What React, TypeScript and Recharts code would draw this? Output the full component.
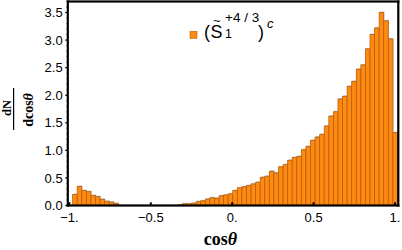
import React from 'react';
import { BarChart, Bar, XAxis, YAxis } from 'recharts';

// histogram bins (cos theta)
const binLo = -0.98;
const binWidth = 0.0281;
const binHeights = [
  0.2, 0.345, 0.27, 0.25, 0.18, 0.16, 0.11, 0.075, 0.06, 0.035,
  0, 0, 0, 0, 0, 0, 0, 0, 0, 0, 0, 0, 0,
  0.01, 0.03, 0.03, 0.04, 0.07, 0.085, 0.115, 0.14, 0.13, 0.175,
  0.19, 0.21, 0.27, 0.32, 0.34, 0.36, 0.39, 0.42, 0.51, 0.53,
  0.62, 0.59, 0.7, 0.74, 0.82, 0.87, 0.89, 1.01, 1.07, 1.18,
  1.24, 1.29, 1.44, 1.62, 1.7, 1.93, 1.98, 2.16, 2.25, 2.47,
  2.55, 2.84, 3.1, 3.22, 3.5, 3.35, 3.02, 1.32,
];

const xTicks = [-1, -0.5, 0, 0.5, 1];
const xTickLabels = ['\u22121.', '\u22120.5', '0.', '0.5', '1.'];
const yTicks = [0, 0.5, 1, 1.5, 2, 2.5, 3, 3.5];
const yMinorTicks = [
  0.1, 0.2, 0.3, 0.4, 0.6, 0.7, 0.8, 0.9, 1.1, 1.2, 1.3, 1.4, 1.6, 1.7, 1.8, 1.9,
  2.1, 2.2, 2.3, 2.4, 2.6, 2.7, 2.8, 2.9, 3.1, 3.2, 3.3, 3.4, 3.6,
];

const data = binHeights.map((v, i) => ({
  bin: +(binLo + (i + 0.5) * binWidth).toFixed(4),
  v,
}));

const W = 402;
const H = 250;
const margin = { top: 1.5, right: 3.7, left: 0, bottom: 14.5 };
const yAxisW = 67.8;
const xAxisH = 30;
const xDomain: [number, number] = [-1.0098, 1.0203];
const yDomain: [number, number] = [0, 3.7];

const plotW = W - margin.left - margin.right - yAxisW;
const plotH = H - margin.top - margin.bottom - xAxisH;
const pxPerUnit = plotW / (xDomain[1] - xDomain[0]);
const padL = (binLo - xDomain[0]) * pxPerUnit;
const padR = (xDomain[1] - (binLo + binHeights.length * binWidth)) * pxPerUnit;
const band = (plotW - padL - padR) / binHeights.length;

const sans = '"Liberation Sans", Arial, sans-serif';
const serif = '"Liberation Serif", "Times New Roman", serif';
const orange = '#ff8a12';
const edge = '#b9600a';
const frameW = 2.2;

const HistBar = (props: any) => {
  const { x, y, width, height } = props;
  if (!height || height <= 0) return <g />;
  return (
    <g>
      <rect x={x + 0.6} y={y - 1} width={width} height={height + 1} fill="#bdbdbd" />
      <rect x={x} y={y} width={width} height={height} fill={orange} stroke={edge} strokeWidth={0.8} />
    </g>
  );
};

const YTick = (props: any) => {
  const { x, y, payload } = props;
  const major = yTicks.includes(payload.value);
  return (
    <g>
      <line x1={x - (major ? 2.5 : 1.3)} x2={x} y1={y} y2={y} stroke="#000" strokeWidth={major ? 1.3 : 1} />
      {major && (
        <text x={x - 5.1} y={y} dy="0.36em" textAnchor="end" fontSize={13} fontFamily={sans} fill="#000">
          {payload.value.toFixed(1)}
        </text>
      )}
    </g>
  );
};

const XTick = (props: any) => {
  const { x, y, payload } = props;
  const idx = xTicks.indexOf(payload.value);
  return (
    <g>
      <line x1={x} x2={x} y1={y} y2={y - 3.2} stroke="#000" strokeWidth={2} />
      <text x={x} y={y + 16.8} textAnchor="middle" fontSize={13} fontFamily={sans} fill="#000">
        {xTickLabels[idx]}
      </text>
    </g>
  );
};

const Labels = () => {
  const fx = margin.left + yAxisW;
  const fy = margin.top;
  const h = frameW / 2;
  return (
    <svg width={W} height={H} style={{ position: 'absolute', left: 0, top: 0, pointerEvents: 'none' }}>
      {/* frame */}
      <rect x={fx - h} y={fy - h} width={plotW + frameW} height={frameW} fill="#000" />
      <rect x={fx - h} y={fy + plotH - h} width={plotW + frameW} height={frameW} fill="#000" />
      <rect x={fx - h} y={fy - h} width={frameW} height={plotH + frameW} fill="#000" />
      <rect x={fx + plotW - h} y={fy - h} width={frameW} height={plotH + frameW} fill="#000" />
      {/* legend */}
      <rect x={190} y={31.3} width={7} height={7} fill={orange} stroke={edge} strokeWidth={0.6} />
      <text fontFamily={sans} fill="#000">
        <tspan x={204} y={37.7} fontSize={18}>(</tspan>
        <tspan x={210.5} y={37.7} fontSize={18}>S</tspan>
        <tspan x={213} y={25} fontSize={13}>~</tspan>
        <tspan x={225} y={38.3} fontSize={12.5}>1</tspan>
        <tspan x={225} y={22.3} fontSize={13.5}>+4 / 3</tspan>
        <tspan x={258} y={37.7} fontSize={18}>)</tspan>
        <tspan x={267} y={28.3} fontSize={13} fontStyle="italic">c</tspan>
      </text>
      {/* x label */}
      <text x={220.5} y={245} textAnchor="middle" fontSize={18} fontWeight="bold" fontFamily={serif} fill="#000">
        cos<tspan fontStyle="italic">θ</tspan>
      </text>
      {/* y label */}
      <text transform="translate(11.2,108) rotate(-90)" textAnchor="middle" fontSize={12.5} fontWeight="bold" fontFamily={serif} fill="#000">
        dN
      </text>
      <line x1={13.6} x2={13.6} y1={88} y2={130} stroke="#000" strokeWidth={1.2} />
      <text transform="translate(32.5,110) rotate(-90)" textAnchor="middle" fontSize={14} fontWeight="bold" fontFamily={serif} fill="#000">
        dcos<tspan fontStyle="italic">θ</tspan>
      </text>
    </svg>
  );
};

export default function App() {
  return (
    <div style={{ position: 'absolute', left: 0, top: 0, width: W, height: H, background: '#fff' }}>
      <BarChart width={W} height={H} data={data} margin={margin} barCategoryGap={0} barGap={0}>
        <XAxis
          xAxisId="num"
          dataKey="bin"
          type="number"
          domain={xDomain}
          allowDataOverflow
          ticks={xTicks}
          interval={0}
          tickLine={false}
          tickSize={0}
          tickMargin={0}
          height={xAxisH}
          axisLine={false}
          tick={<XTick />}
        />
        <XAxis
          xAxisId="bins"
          dataKey="bin"
          type="category"
          orientation="top"
          hide
          height={0}
          padding={{ left: padL, right: padR }}
        />
        <YAxis
          yAxisId="main"
          type="number"
          domain={yDomain}
          allowDataOverflow
          ticks={[...yTicks, ...yMinorTicks]}
          interval={0}
          width={yAxisW}
          tickLine={false}
          tickSize={0}
          tickMargin={0}
          axisLine={false}
          tick={<YTick />}
        />
        <Bar
          dataKey="v"
          xAxisId="bins"
          yAxisId="main"
          barSize={band - 0.02}
          shape={HistBar}
          isAnimationActive={false}
        />
      </BarChart>
      <Labels />
    </div>
  );
}
